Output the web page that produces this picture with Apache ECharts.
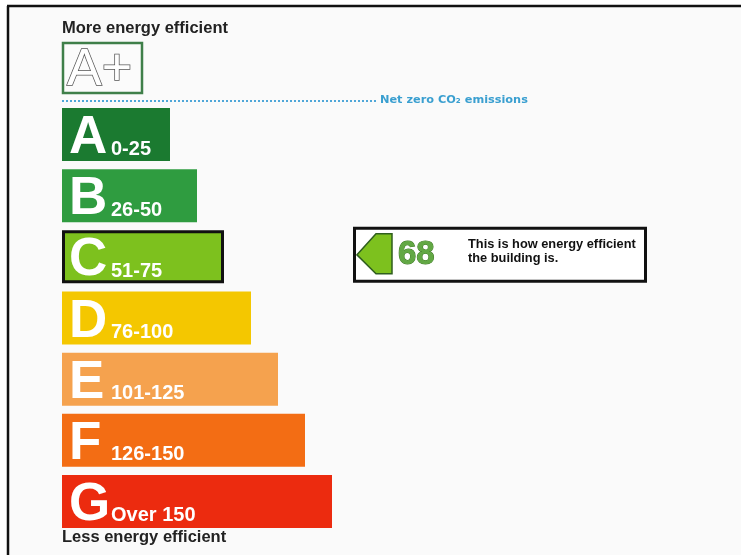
<!DOCTYPE html>
<html>
<head>
<meta charset="utf-8">
<script src="https://cdn.jsdelivr.net/npm/echarts@6/dist/echarts.min.js"></script>
<style>
  html, body { margin: 0; padding: 0; background: #fff; }
  #chart { width: 741px; height: 555px; }
</style>
</head>
<body>
<div id="chart"></div>
<script>
// rating bands, top (most efficient) to bottom
var bandLetters = ['A', 'B', 'C', 'D', 'E', 'F', 'G'];
var bandRanges = ['0-25', '26-50', '51-75', '76-100', '101-125', '126-150', 'Over 150'];
var bandUpper = [25, 50, 75, 100, 125, 150, Infinity];
// relative bar lengths
var bandLengths = [4, 5, 6, 7, 8, 9, 10];
var bandColors = ['#1b7a30', '#2f9c40', '#7dc11e', '#f4c700', '#f5a24e', '#f36d14', '#ec2b0f'];
var buildingRating = 68;

var font = '"Liberation Sans", Arial, sans-serif';

var ratingIndex = 0;
while (buildingRating > bandUpper[ratingIndex]) ratingIndex++;

var chart = echarts.init(document.getElementById('chart'));

var barData = bandLengths.map(function (v, i) {
  var item = { value: v, itemStyle: { color: bandColors[i] } };
  if (i === ratingIndex) {
    item.itemStyle.borderColor = '#111';
    item.itemStyle.borderWidth = 3;
  }
  return item;
});

var option = {
  backgroundColor: '#fff',
  animation: false,
  title: [{
    text: 'More energy efficient',
    left: 62, top: 20, padding: 0,
    textStyle: { fontFamily: font, fontSize: 16.5, fontWeight: 'bold', color: '#222' }
  }, {
    text: 'Less energy efficient',
    left: 62, top: 529, padding: 0,
    textStyle: { fontFamily: font, fontSize: 16.5, fontWeight: 'bold', color: '#222' }
  }],
  grid: { left: 62, right: 4, top: 104, bottom: 23 },
  xAxis: { type: 'value', min: 0, max: 25, show: false },
  yAxis: {
    type: 'category',
    data: bandLetters,
    inverse: true,
    show: false
  },
  series: [{
    type: 'bar',
    barWidth: 53,
    data: barData,
    z: 3,
    label: {
      show: true,
      position: 'insideLeft',
      distance: 7,
      offset: [0, 4],
      formatter: function (p) {
        return '{big|' + bandLetters[p.dataIndex] + '}{small|' + bandRanges[p.dataIndex] + '}';
      },
      rich: {
        big: { fontFamily: font, fontSize: 53, fontWeight: 'bold', color: '#fff', width: 42 },
        small: { fontFamily: font, fontSize: 20, fontWeight: 'bold', color: '#fff',
          verticalAlign: 'bottom', padding: [0, 0, 6, 0] }
      }
    }
  }]
};

chart.setOption(option);

// rating indicator aligned to the band the building falls in
var yc = chart.convertToPixel({ yAxisIndex: 0 }, bandLetters[ratingIndex]) - 2;

chart.setOption({
  graphic: [
    // page frame
    { type: 'rect', z: -10, shape: { x: 8, y: 6, width: 733, height: 549 }, style: { fill: '#fafafa' } },
    { type: 'line', z: 10, shape: { x1: 7, y1: 6, x2: 741, y2: 6 }, style: { stroke: '#111', lineWidth: 2.5 } },
    { type: 'line', z: 10, shape: { x1: 8, y1: 6, x2: 8, y2: 555 }, style: { stroke: '#111', lineWidth: 2.5 } },
    // A+ box
    { type: 'rect', z: 5, shape: { x: 63, y: 43, width: 79, height: 50 },
      style: { fill: '#fbfbfb', stroke: '#3f7f49', lineWidth: 2.5 } },
    { type: 'text', z: 6, x: 67, y: 45,
      style: { text: 'A+', fontFamily: font, fontSize: 52, fill: '#fff', stroke: '#555', lineWidth: 1.5 } },
    // net zero line
    { type: 'line', z: 5, shape: { x1: 62, y1: 101, x2: 378, y2: 101 },
      style: { stroke: '#4fa7d8', lineWidth: 2, lineDash: [2, 2] } },
    { type: 'text', z: 5, x: 380, y: 95,
      style: { text: 'Net zero CO\u2082 emissions', fontFamily: '"DejaVu Sans", sans-serif', fontSize: 11.3,
        fontWeight: 'bold', fill: '#3a9fd0' } },
    // rating indicator
    { type: 'rect', z: 8, shape: { x: 354.5, y: yc - 26.5, width: 291, height: 53 },
      style: { fill: '#fff', stroke: '#111', lineWidth: 3 } },
    { type: 'polygon', z: 9,
      shape: { points: [[357, yc], [376, yc - 21], [392, yc - 21], [392, yc + 19], [376, yc + 19]] },
      style: { fill: bandColors[ratingIndex], stroke: '#2f5e1e', lineWidth: 1.5 } },
    { type: 'text', z: 9, x: 398, y: yc,
      style: { text: String(buildingRating), fontFamily: font, fontSize: 33, fontWeight: 'bold',
        fill: '#62a844', stroke: '#3f7a26', lineWidth: 1, verticalAlign: 'middle' } },
    { type: 'text', z: 9, x: 468, y: yc - 17,
      style: { text: 'This is how energy efficient\nthe building is.', fontFamily: font, fontSize: 12.8,
        fontWeight: 'bold', fill: '#111', lineHeight: 14 } }
  ]
});
</script>
</body>
</html>
